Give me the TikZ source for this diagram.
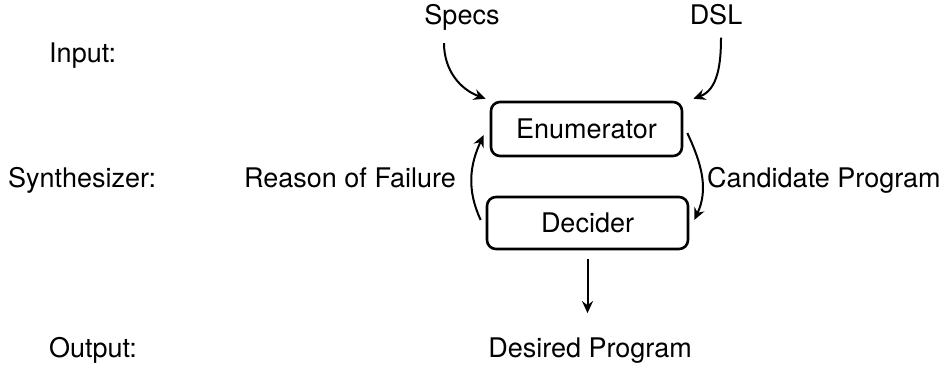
\documentclass[tikz,border=0pt]{standalone}
\usepackage{fontspec}
\setmainfont{TeX Gyre Heros}
\usetikzlibrary{arrows.meta}
\begin{document}
\begin{tikzpicture}[x=1pt,y=1pt,
  every node/.style={font=\fontsize{27}{32}\selectfont, inner sep=0pt},
  box/.style={draw, line width=2.6pt, rounded corners=9pt},
  arr/.style={line width=2pt, -{Stealth[length=12pt,width=11pt,inset=4pt]}}]
\useasboundingbox (0,0) rectangle (949,370);
% labels
\node[anchor=base west] (input) at (49,307) {Input:};
\node[anchor=base west] (synth) at (8,183) {Synthesizer:};
\node[anchor=base west] (output) at (49,13) {Output:};
\node[anchor=base] (specs) at (462,345) {Specs};
\node[anchor=base] (dsl) at (716,345) {DSL};
\node[box, minimum width=191pt, minimum height=54pt] (enum) at (586.5,241) {Enumerator};
\node[box, minimum width=201pt, minimum height=52pt] (dec) at (587.5,147) {Decider};
\node[anchor=base east] (reason) at (456,183) {Reason of Failure};
\node[anchor=base west] (cand) at (707,183) {Candidate Program};
\node[anchor=base] (desired) at (590,13) {Desired Program};
% connectors
\draw[arr] ([xshift=-18pt,yshift=-12pt]specs.south) to[out=-90,in=160] ([xshift=-4pt,yshift=2pt]enum.north west);
\draw[arr] ([xshift=5pt,yshift=-12pt]dsl.south) to[out=-90,in=20] ([xshift=10pt,yshift=2pt]enum.north east);
\draw[arr] ([xshift=-5pt,yshift=3pt]dec.west) to[out=115,in=-115] ([xshift=-6pt,yshift=-6pt]enum.west);
\draw[arr] ([xshift=4pt,yshift=-4pt]enum.east) to[out=-65,in=65] ([xshift=5pt,yshift=3pt]dec.east);
\draw[arr] ([yshift=-9pt]dec.south) -- ([yshift=24pt]desired.north -| dec.south);
\end{tikzpicture}
\end{document}
